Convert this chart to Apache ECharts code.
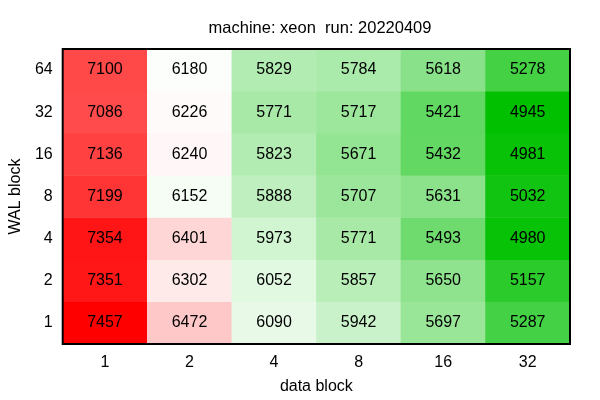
<!DOCTYPE html>
<html>
<head>
<meta charset="utf-8">
<script src="https://cdn.jsdelivr.net/npm/echarts@6/dist/echarts.min.js"></script>
<style>html,body{margin:0;padding:0;background:#fff}#c{width:600px;height:400px}</style>
</head>
<body>
<div id="c"></div>
<script>
const dataBlocks = ['1', '2', '4', '8', '16', '32'];
const walBlocks = ['1', '2', '4', '8', '16', '32', '64'];
// rows indexed by WAL block (bottom to top), columns by data block
const row1  = [7457, 6472, 6090, 5942, 5697, 5287];
const row2  = [7351, 6302, 6052, 5857, 5650, 5157];
const row4  = [7354, 6401, 5973, 5771, 5493, 4980];
const row8  = [7199, 6152, 5888, 5707, 5631, 5032];
const row16 = [7136, 6240, 5823, 5671, 5432, 4981];
const row32 = [7086, 6226, 5771, 5717, 5421, 4945];
const row64 = [7100, 6180, 5829, 5784, 5618, 5278];
const rows = [row1, row2, row4, row8, row16, row32, row64];

const cells = [];
rows.forEach((r, yi) => r.forEach((v, xi) => cells.push([xi, yi, v])));
const all = cells.map(c => c[2]);
const vmin = Math.min(...all), vmax = Math.max(...all);

const font = 'Liberation Sans, Arial, sans-serif';
const chart = echarts.init(document.getElementById('c'), null, {renderer: 'canvas'});
chart.setOption({
  animation: false,
  backgroundColor: '#fff',
  title: {
    text: 'machine: xeon  run: 20220409',
    left: 315, top: 15, textAlign: 'center',
    textStyle: {fontFamily: font, fontSize: 16.5, fontWeight: 'normal', color: '#000'}
  },
  grid: {left: 61, right: 30, top: 49, bottom: 53, show: true, borderColor: '#000', borderWidth: 2, backgroundColor: 'transparent', z: 10},
  xAxis: {
    type: 'category', data: dataBlocks,
    name: 'data block', nameLocation: 'middle', nameGap: 35,
    nameTextStyle: {fontFamily: font, fontSize: 16, color: '#000'},
    axisLine: {show: false}, axisTick: {show: false}, splitLine: {show: false},
    axisLabel: {fontFamily: font, fontSize: 16, color: '#000', margin: 11}
  },
  yAxis: {
    type: 'category', data: walBlocks,
    name: 'WAL block', nameLocation: 'middle', nameGap: 38, nameRotate: 90,
    nameTextStyle: {fontFamily: font, fontSize: 16, color: '#000'},
    axisLine: {show: false}, axisTick: {show: false}, splitLine: {show: false},
    axisLabel: {fontFamily: font, fontSize: 16, color: '#000', margin: 10}
  },
  visualMap: {
    show: false, type: 'continuous', min: vmin, max: vmax, dimension: 2,
    inRange: {color: ['#00c000', '#ffffff', '#ff0000']}
  },
  series: [{
    type: 'heatmap', data: cells,
    label: {show: true, fontFamily: font, fontSize: 16, color: '#000'},
    itemStyle: {borderWidth: 0}
  }]
});
</script>
</body>
</html>
